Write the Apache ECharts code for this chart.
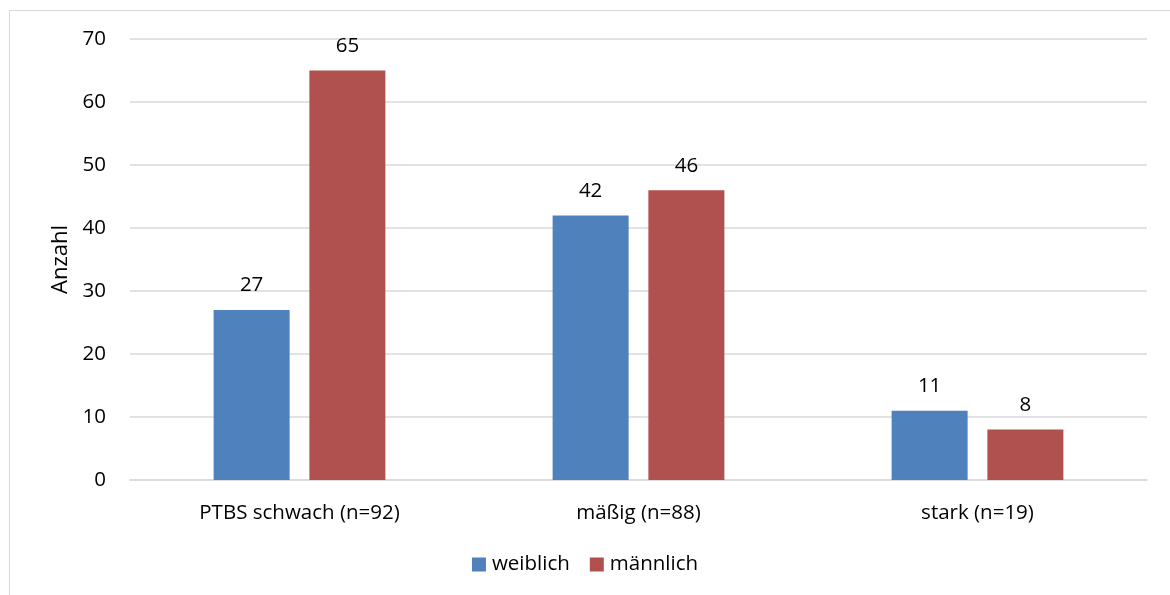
<!DOCTYPE html>
<html><head><meta charset="utf-8">
<script src="https://cdn.jsdelivr.net/npm/echarts@6/dist/echarts.min.js"></script>
<style>html,body{margin:0;padding:0;background:#fff}#c{width:1170px;height:595px}
#frame{position:absolute;left:9px;top:10px;width:1170px;height:600px;border:1.5px solid #d9d9d9;box-sizing:border-box;pointer-events:none}</style>
</head><body><div id="c"></div><div id="frame"></div>
<script>
const categories = ['PTBS schwach (n=92)', 'mäßig (n=88)', 'stark (n=19)'];
const weiblich = [27, 42, 11];
const maennlich = [65, 46, 8];
const yTicks = {min: 0, max: 70, interval: 10};

const font = 'Open Sans';
const fs = 20.5;
const chart = echarts.init(document.getElementById('c'));
chart.setOption({
  animation: false,
  textStyle: {fontFamily: font},
  grid: {left: 130, right: 23, top: 39, bottom: 115},
  legend: {
    bottom: 15, left: 'center', itemWidth: 14, itemHeight: 14, itemGap: 20,
    icon: 'rect',
    textStyle: {fontSize: fs, color: '#000', fontFamily: font, padding: [0, 0, 0, 1]},
    data: ['weiblich', 'männlich']
  },
  xAxis: {
    type: 'category', data: categories,
    axisTick: {show: false},
    axisLine: {lineStyle: {color: '#d9d9d9', width: 1.5}},
    axisLabel: {fontSize: fs, color: '#000', margin: 23}
  },
  yAxis: {
    type: 'value', min: yTicks.min, max: yTicks.max, interval: yTicks.interval,
    name: 'Anzahl', nameLocation: 'middle', nameGap: 49, nameRotate: 90,
    nameTextStyle: {fontSize: 22, color: '#000', fontFamily: font},
    axisLine: {show: false}, axisTick: {show: false},
    axisLabel: {fontSize: fs, color: '#000', margin: 24},
    splitLine: {lineStyle: {color: '#d9d9d9', width: 1.5}}
  },
  series: [
    {name: 'weiblich', type: 'bar', data: weiblich, barWidth: 76, barGap: '26%',
     itemStyle: {color: '#4F81BD'},
     label: {show: true, position: 'top', distance: 14, fontSize: fs, color: '#000'}},
    {name: 'männlich', type: 'bar', data: maennlich, barWidth: 76,
     itemStyle: {color: '#B0504F'},
     label: {show: true, position: 'top', distance: 14, fontSize: fs, color: '#000'}}
  ]
});
</script></body></html>
